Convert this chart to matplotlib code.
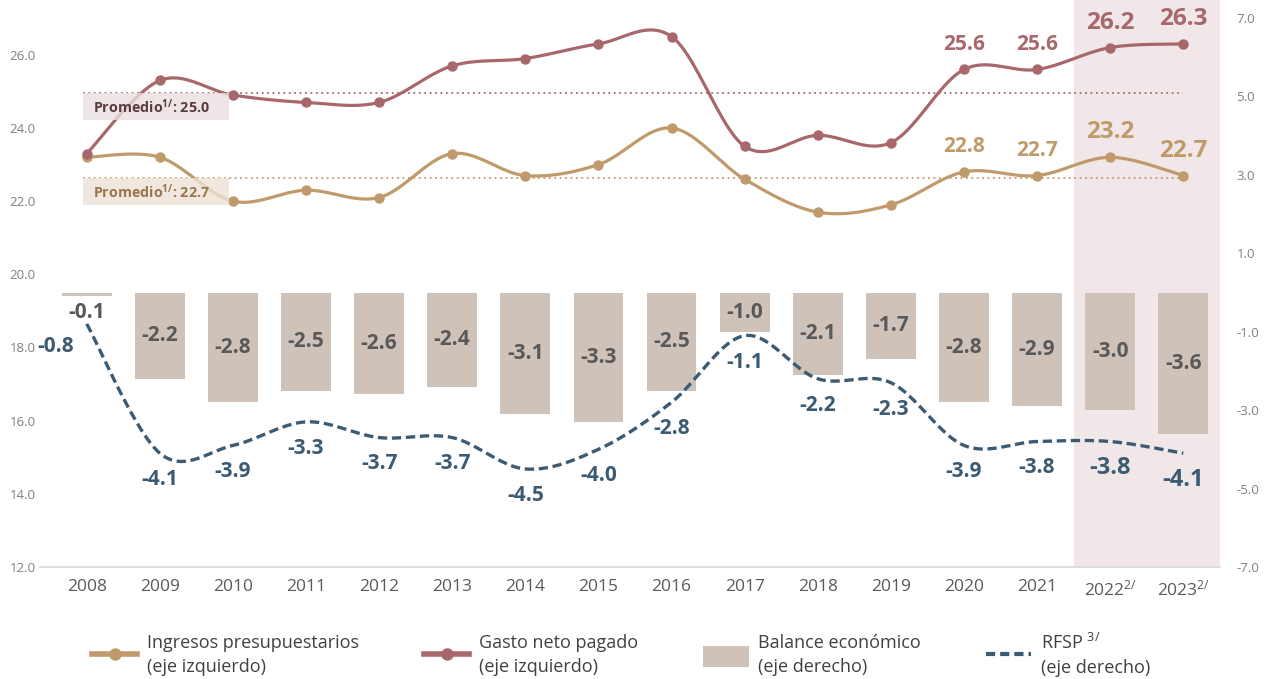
import numpy as np
import matplotlib
matplotlib.use('Agg')
import matplotlib.pyplot as plt
from matplotlib.lines import Line2D
from matplotlib.patches import Patch, Rectangle

plt.rcParams['font.family'] = ['Open Sans', 'DejaVu Sans']
plt.rcParams['mathtext.default'] = 'regular'

years = ['2008', '2009', '2010', '2011', '2012', '2013', '2014', '2015',
         '2016', '2017', '2018', '2019', '2020', '2021', '2022$^{2/}$', '2023$^{2/}$']
ingresos = [23.2, 23.2, 22.0, 22.3, 22.1, 23.3, 22.7, 23.0,
            24.0, 22.6, 21.7, 21.9, 22.8, 22.7, 23.2, 22.7]
gasto = [23.3, 25.3, 24.9, 24.7, 24.7, 25.7, 25.9, 26.3,
         26.5, 23.5, 23.8, 23.6, 25.6, 25.6, 26.2, 26.3]
balance = [-0.1, -2.2, -2.8, -2.5, -2.6, -2.4, -3.1, -3.3,
           -2.5, -1.0, -2.1, -1.7, -2.8, -2.9, -3.0, -3.6]
rfsp = [-0.8, -4.1, -3.9, -3.3, -3.7, -3.7, -4.5, -4.0,
        -2.8, -1.1, -2.2, -2.3, -3.9, -3.8, -3.8, -4.1]
prom_gasto = 25.0
prom_ingresos = 22.7

C_ING = '#c09a6b'
C_GAS = '#a8676b'
C_BAR = '#cfc3b9'
C_RFSP = '#3b5b73'
C_SHADE = '#f1e7e8'


def smooth(xv, yv, n=24):
    # Catmull-Rom curve through the points (like Excel's smoothed lines)
    p = np.column_stack([xv, yv]).astype(float)
    p = np.vstack([p[0], p, p[-1]])
    t = np.linspace(0, 1, n, endpoint=False)[:, None]
    segs = []
    for i in range(1, len(p) - 2):
        p0, p1, p2, p3 = p[i - 1], p[i], p[i + 1], p[i + 2]
        segs.append(0.5 * (2 * p1 + (p2 - p0) * t
                           + (2 * p0 - 5 * p1 + 4 * p2 - p3) * t ** 2
                           + (3 * p1 - p0 - 3 * p2 + p3) * t ** 3))
    segs.append(p[-2:-1])
    s = np.vstack(segs)
    return s[:, 0], s[:, 1]


x = np.arange(len(years))

fig = plt.figure(figsize=(12.68, 6.79), dpi=100)
ax = fig.add_axes([0.0315, 0.165, 0.9305, 0.835])
ax2 = ax.twinx()

ax.axvspan(13.5, 15.5, color=C_SHADE, zorder=0, lw=0)

# left axis lines
for vals, col in [(ingresos, C_ING), (gasto, C_GAS)]:
    sx, sy = smooth(x, vals)
    ax.plot(sx, sy, color=col, lw=2.3, zorder=3, solid_capstyle='round')
    ax.plot(x, vals, 'o', color=col, ms=6.5, zorder=4)

# promedio lines and boxes
for val, col, box, tcol, ytop in [(prom_gasto, C_GAS, '#eadfe0', '#5a3b3e', 24.95),
                                  (prom_ingresos, C_ING, '#ede2d6', '#98774f', 22.64)]:
    ax.plot([-0.05, 15], [ytop, ytop], color=col, lw=1.3, ls=(0, (1, 2)), zorder=2)
    ax.add_patch(Rectangle((-0.05, ytop - 0.74), 2.0, 0.74, facecolor=box,
                           edgecolor='none', alpha=0.8, zorder=5))
    ax.text(0.08, ytop - 0.37, 'Promedio$^{1/}$: %.1f' % val, color=tcol,
            fontsize=10.3, fontweight='bold', va='center', ha='left', zorder=6)

# labels for the last years
for i in range(12, 16):
    fs = 17.5 if i >= 14 else 15
    ax.annotate('%.1f' % gasto[i], (x[i], gasto[i]), xytext=(0, 18),
                textcoords='offset points', ha='center', va='center',
                color=C_GAS, fontsize=fs, fontweight='bold', zorder=7)
    ax.annotate('%.1f' % ingresos[i], (x[i], ingresos[i]), xytext=(0, 18),
                textcoords='offset points', ha='center', va='center',
                color=C_ING, fontsize=fs, fontweight='bold', zorder=7)

# right axis: bars and RFSP
ax2.bar(x, balance, width=0.68, color=C_BAR, zorder=2)
for i, v in enumerate(balance):
    ax2.text(x[i], min(v / 2, -0.5), '%.1f' % v, ha='center', va='center',
             color='#595959', fontsize=15, fontweight='bold', zorder=5)

sx, sy = smooth(x, rfsp)
ax2.plot(sx, sy, color=C_RFSP, lw=2.4, ls=(0, (2.8, 1.4)), zorder=4)
for i, v in enumerate(rfsp):
    fs = 17 if i >= 14 else 15
    off = (-22, -16.5) if i == 0 else (0, -19)
    ax2.annotate('%.1f' % v, (x[i], v), xytext=off, textcoords='offset points',
                 ha='center', va='center', color=C_RFSP, fontsize=fs,
                 fontweight='bold', zorder=6)

ax.set_xlim(-0.64, 15.5)
ax.set_ylim(12, 27.5)
ax2.set_ylim(-7, 7.46)
ax.set_yticks(np.arange(12, 27, 2))
ax.set_yticklabels(['%.1f' % v for v in np.arange(12, 27, 2)])
ax2.set_yticks(np.arange(-7, 8, 2))
ax2.set_yticklabels(['%.1f' % v for v in np.arange(-7, 8, 2)])
ax.set_xticks(x)
ax.set_xticklabels(years)

ax.tick_params(axis='x', length=0, pad=9, labelsize=12.5, labelcolor='#595959')
ax.tick_params(axis='y', length=0, pad=3, labelsize=9.5, labelcolor='#808080')
ax2.tick_params(axis='y', length=0, pad=12, labelsize=9.5, labelcolor='#808080')
for a in (ax, ax2):
    for s in a.spines.values():
        s.set_visible(False)
ax.spines['bottom'].set_visible(True)
ax.spines['bottom'].set_color('#d9d9d9')
ax.spines['bottom'].set_linewidth(1.2)

handles = [Line2D([0], [0], color=C_ING, lw=4, marker='o', ms=8),
           Line2D([0], [0], color=C_GAS, lw=4, marker='o', ms=8),
           Patch(facecolor=C_BAR),
           Line2D([0], [0], color=C_RFSP, lw=3, ls=(0, (2.2, 1.2)))]
labels = ['Ingresos presupuestarios\n(eje izquierdo)',
          'Gasto neto pagado\n(eje izquierdo)',
          'Balance económico\n(eje derecho)',
          'RFSP $^{3/}$\n(eje derecho)']
leg = fig.legend(handles, labels, loc='center', bbox_to_anchor=(0.49, 0.035), ncol=4,
                 frameon=False, fontsize=13, labelcolor='#404040', handlelength=2.5,
                 handleheight=1.4, columnspacing=3.6, handletextpad=0.55)
for t in leg.get_texts():
    t.set_linespacing(1.45)

fig.savefig('out.png', dpi=100)
